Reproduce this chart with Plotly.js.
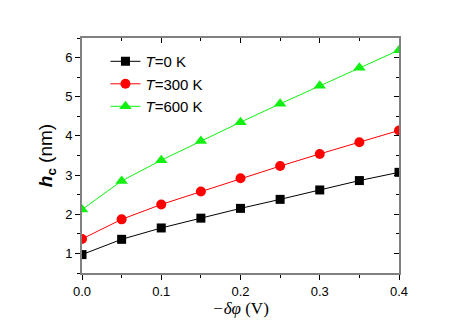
<!DOCTYPE html>
<html>
<head>
<meta charset="utf-8">
<script src="https://cdn.plot.ly/plotly-3.0.1.min.js"></script>
<style>
  html, body { margin: 0; padding: 0; background: #fff; }
  #chart { width: 463px; height: 327px; }
</style>
</head>
<body>
<div id="chart"></div>
<script>
// bias voltage -dphi (V)
var dphi = [0.0, 0.05, 0.1, 0.15, 0.2, 0.25, 0.3, 0.35, 0.4];

// h_c (nm) for each temperature
var hc0K   = [0.97, 1.36, 1.65, 1.90, 2.15, 2.38, 2.62, 2.86, 3.07];
var hc300K = [1.37, 1.87, 2.25, 2.58, 2.92, 3.23, 3.54, 3.84, 4.14];
var hc600K = [2.12, 2.85, 3.38, 3.87, 4.35, 4.82, 5.28, 5.74, 6.19];

var names = ['<i>T</i>=0 K', '<i>T</i>=300 K', '<i>T</i>=600 K'];

function series(y, name, color, symbol, size) {
    return {
        x: dphi,
        y: y,
        name: name,
        type: 'scatter',
        mode: 'lines+markers',
        line: {color: color, width: 1},
        marker: {color: color, symbol: symbol, size: size}
    };
}

var data = [
    series(hc0K, names[0], '#000000', 'square', 9),
    series(hc300K, names[1], '#ff0000', 'circle', 10),
    series(hc600K, names[2], '#11f011', 'triangle-up', 11),
    // empty trace so the top/right axes get drawn with inward ticks
    {x: [], y: [], xaxis: 'x2', yaxis: 'y2', showlegend: false, hoverinfo: 'skip'}
];

var axisCommon = {
    showgrid: false,
    zeroline: false,
    showline: true,
    linecolor: '#808080',
    linewidth: 2,
    tickcolor: '#000',
    tickwidth: 1,
    ticklen: 5,
    tickfont: {family: 'Liberation Sans, Arial, sans-serif', size: 13, color: '#000'}
};

var layout = {
    width: 463,
    height: 327,
    margin: {l: 82, r: 64, t: 38, b: 54},
    paper_bgcolor: '#fff',
    plot_bgcolor: '#fff',
    font: {family: 'Liberation Sans, Arial, sans-serif', color: '#000'},
    xaxis: Object.assign({}, axisCommon, {
        range: [0, 0.4],
        dtick: 0.1,
        tickformat: '.1f',
        ticks: 'outside',
        minor: {dtick: 0.05, ticks: 'outside', ticklen: 3, tickcolor: '#000'},
        title: {
            text: '<span style="font-family:Liberation Serif,Times New Roman,serif"><i>\u2212\u03b4\u03c6</i> (V)</span>',
            font: {size: 17},
            standoff: 2
        }
    }),
    yaxis: Object.assign({}, axisCommon, {
        range: [0.5, 6.5],
        dtick: 1,
        ticks: 'outside',
        minor: {dtick: 0.5, ticks: 'outside', ticklen: 3, tickcolor: '#000'},
        title: {
            text: '<b><i>h</i><sub>c</sub></b> (nm)',
            font: {size: 19},
            standoff: 8
        }
    }),
    xaxis2: Object.assign({}, axisCommon, {
        overlaying: 'x',
        side: 'top',
        anchor: 'y2',
        range: [0, 0.4],
        dtick: 0.1,
        ticks: 'inside',
        showticklabels: false,
        minor: {dtick: 0.05, ticks: 'inside', ticklen: 3, tickcolor: '#000'}
    }),
    yaxis2: Object.assign({}, axisCommon, {
        overlaying: 'y',
        side: 'right',
        anchor: 'x2',
        range: [0.5, 6.5],
        dtick: 1,
        ticks: 'inside',
        showticklabels: false,
        minor: {dtick: 0.5, ticks: 'inside', ticklen: 3, tickcolor: '#000'}
    }),
    showlegend: true,
    legend: {
        x: 0.074,
        y: 0.97,
        xanchor: 'left',
        yanchor: 'top',
        bgcolor: 'rgba(0,0,0,0)',
        font: {size: 15, family: 'Liberation Sans, Arial, sans-serif'},
        tracegroupgap: 0,
        itemwidth: 30
    }
};

Plotly.newPlot('chart', data, layout, {displayModeBar: false, staticPlot: true});
</script>
</body>
</html>
